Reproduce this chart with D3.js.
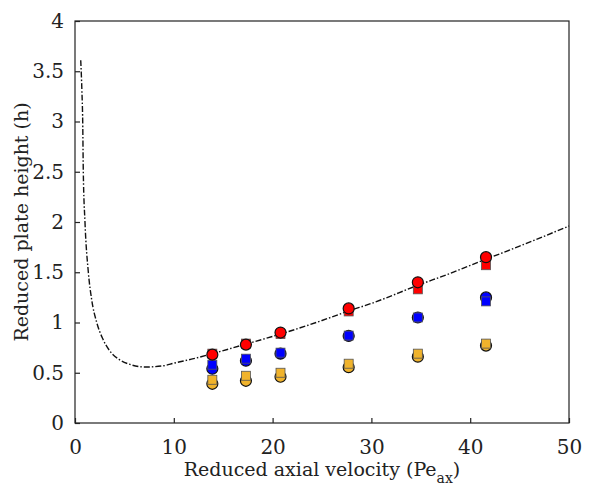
<!DOCTYPE html>
<html>
<meta charset=utf-8>
<title>Plate height</title>
<style>
  body { margin: 0; background: #fff; }
  text { font-family: "DejaVu Serif", serif; fill: #222; }
</style>
<body>
<svg id=chart width=590 height=491></svg>
<script src="https://cdn.jsdelivr.net/npm/d3@7"></script>
<script>
var pe = [13.9, 17.3, 20.8, 27.7, 34.7, 41.6];
var redCircle = [0.68, 0.78, 0.90, 1.14, 1.40, 1.65];
var redSquare = [0.69, 0.79, 0.885, 1.11, 1.33, 1.57];
var blueCircle = [0.54, 0.62, 0.69, 0.866, 1.05, 1.25];
var blueSquare = [0.58, 0.64, 0.70, 0.87, 1.05, 1.21];
var yellowCircle = [0.39, 0.42, 0.46, 0.555, 0.66, 0.77];
var yellowSquare = [0.43, 0.47, 0.50, 0.59, 0.69, 0.79];

// fitted curve, sampled from the figure
var curveX = [0.58, 0.7, 0.78, 0.84, 1.01, 1.35, 1.7, 2.2, 2.8, 3.5, 4.5, 5.5, 7.1, 9, 10, 12, 13.9, 17.3, 20.8, 25, 27.7, 30, 34.7, 38, 41.6, 45, 50];
var curveY = [3.61, 3.3, 3.0, 2.5, 2.0, 1.5, 1.22, 1.0, 0.84, 0.72, 0.63, 0.585, 0.557, 0.57, 0.595, 0.64, 0.69, 0.785, 0.885, 1.02, 1.115, 1.19, 1.37, 1.49, 1.63, 1.76, 1.96];

var xTicks = [0, 10, 20, 30, 40, 50];
var yTicks = [0, 0.5, 1, 1.5, 2, 2.5, 3, 3.5, 4];

var colors = { red: "#ff0000", blue: "#0000ff", yellow: "#f0b32c" };

var svg = d3.select("#chart");
var margin = { left: 75, right: 21, top: 21, bottom: 68 };
var width = 590 - margin.left - margin.right;
var height = 491 - margin.top - margin.bottom;

var x = d3.scaleLinear().domain([0, 50]).range([0, width]);
var y = d3.scaleLinear().domain([0, 4]).range([height, 0]);

var g = svg.append("g").attr("transform", "translate(" + margin.left + "," + margin.top + ")");

// frame
g.append("rect").attr("width", width).attr("height", height)
    .attr("fill", "none").attr("stroke", "#222").attr("stroke-width", 1.2);

// axes, ticks pointing in
var fmt = function (d) { return String(d); };
var xAxis = g.append("g").attr("transform", "translate(0," + height + ")")
    .call(d3.axisBottom(x).tickValues(xTicks).tickFormat(fmt).tickSizeInner(-5).tickSizeOuter(0).tickPadding(17));
var yAxis = g.append("g")
    .call(d3.axisLeft(y).tickValues(yTicks).tickFormat(fmt).tickSizeInner(-5).tickSizeOuter(0).tickPadding(11));
[xAxis, yAxis].forEach(function (a) {
    a.attr("font-family", null);
    a.select(".domain").remove();
    a.selectAll("line").attr("stroke", "#222").attr("stroke-width", 1.2);
    a.selectAll("text").attr("font-size", 20).attr("fill", "#222");
});

// curve
var line = d3.line().x(function (d) { return x(d[0]); }).y(function (d) { return y(d[1]); })
    .curve(d3.curveMonotoneX);
g.append("path").datum(d3.zip(curveX, curveY))
    .attr("d", line).attr("fill", "none").attr("stroke", "#111")
    .attr("stroke-width", 1.4).attr("stroke-dasharray", "6,2,1.5,2");

// markers: squares first, circles on top
function squares(vals, c) {
    g.append("g").selectAll("rect").data(d3.zip(pe, vals)).enter().append("rect")
        .attr("x", function (d) { return x(d[0]) - 4.5; })
        .attr("y", function (d) { return y(d[1]) - 4.5; })
        .attr("width", 9).attr("height", 9)
        .attr("fill", c).attr("stroke", "#555").attr("stroke-width", 0.8);
}
function circles(vals, c) {
    g.append("g").selectAll("circle").data(d3.zip(pe, vals)).enter().append("circle")
        .attr("cx", function (d) { return x(d[0]); })
        .attr("cy", function (d) { return y(d[1]); })
        .attr("r", 5.5)
        .attr("fill", c).attr("stroke", "#111").attr("stroke-width", 1.2);
}
circles(yellowCircle, colors.yellow);
squares(yellowSquare, colors.yellow);
circles(blueCircle, colors.blue);
squares(blueSquare, colors.blue);
squares(redSquare, colors.red);
circles(redCircle, colors.red);

// axis titles
var xt = svg.append("text").attr("x", margin.left + width / 2).attr("y", 476)
    .attr("text-anchor", "middle").attr("font-size", 19);
xt.append("tspan").text("Reduced axial velocity (Pe");
xt.append("tspan").attr("font-size", 14).attr("dy", 7).text("ax");
xt.append("tspan").attr("dy", -7).text(")");

svg.append("text").attr("transform", "translate(28," + (margin.top + height / 2) + ") rotate(-90)")
    .attr("text-anchor", "middle").attr("font-size", 19).text("Reduced plate height (h)");
</script>
</body>
</html>
